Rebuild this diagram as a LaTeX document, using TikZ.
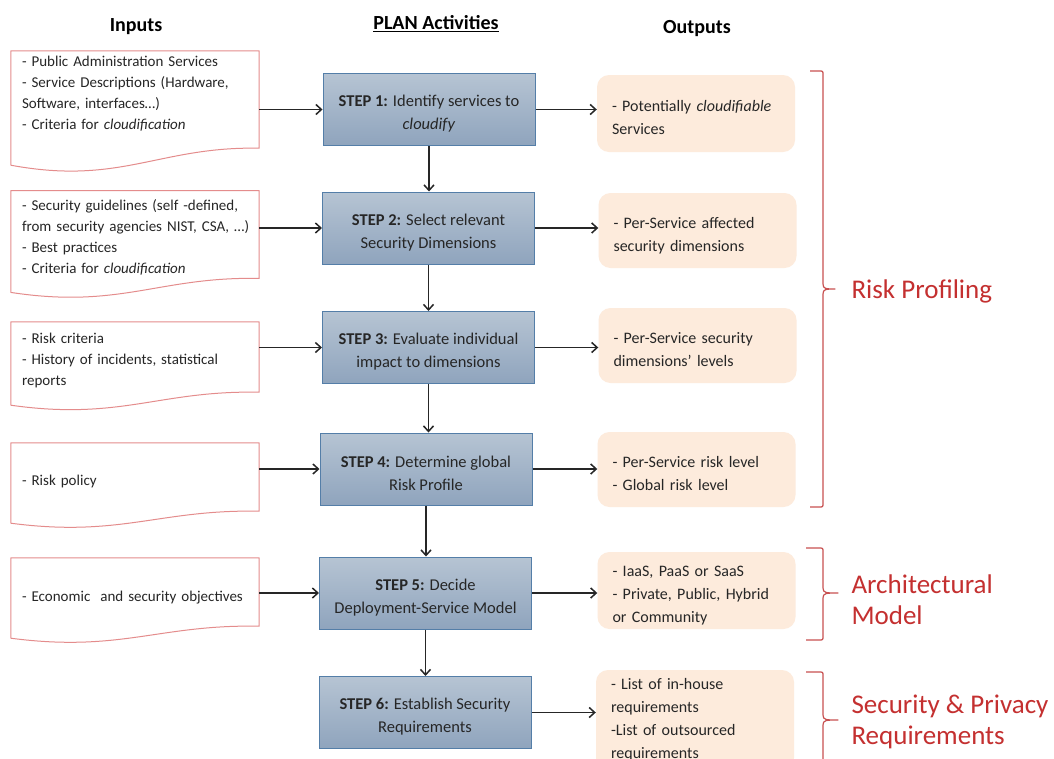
\documentclass[tikz,border=0pt]{standalone}
\usepackage{fontspec}
\setmainfont{Carlito}
\usetikzlibrary{arrows.meta,calc}

\definecolor{txt}{RGB}{38,38,38}
\definecolor{docred}{RGB}{228,140,140}
\definecolor{bracered}{RGB}{200,80,80}
\definecolor{labelred}{RGB}{196,48,48}
\definecolor{steptop}{RGB}{182,196,211}
\definecolor{stepbot}{RGB}{143,164,189}
\definecolor{stepedge}{RGB}{84,126,168}
\definecolor{outfill}{RGB}{253,235,220}

% taller first line, lowers a text block slightly inside its box
\newcommand\lowerstrut[1]{\rule{0pt}{#1}}

\tikzset{
  inputdoc/.style={rectangle, minimum width=248pt, inner xsep=11pt, text width=226pt,
    align=left, font=\fontsize{15}{21}\selectfont, text=txt},
  docline/.style={draw=docred, line width=1pt, line join=round},
  stepbox/.style={rectangle, draw=stepedge, line width=1pt, top color=steptop,
    bottom color=stepbot, minimum width=212pt, minimum height=72pt, align=center,
    font=\fontsize{16.5}{23}\selectfont, text=txt},
  outbox/.style={rectangle, rounded corners=12pt, fill=outfill, minimum width=198pt,
    inner xsep=15pt, text width=168pt, align=left, font=\fontsize{16}{23}\selectfont, text=txt},
  header/.style={font=\fontsize{20}{24}\selectfont\bfseries, text=black},
  flow/.style={draw=black!85, line width=1.3pt,
    -{Straight Barb[length=5.5pt,width=10pt,line width=1.5pt]}},
  bracket/.style={draw=bracered, line width=1.2pt, line join=round},
  grouplabel/.style={font=\fontsize{27}{31}\selectfont, text=labelred, align=left, anchor=west},
}

% document outline with a wavy bottom edge around an input node
\newcommand\docoutline[2]{%
  \draw[docline] (#1.north west) -- (#1.north east) -- (#1.south east)
    .. controls ($(#1.south east)+(-100,-2)$) and ($(#1.south west)+(110,#2*2.2)$)
    .. ($(#1.south west)+(0,#2)$) -- cycle;}

\begin{document}
\begin{tikzpicture}[x=1pt,y=-1pt]
\useasboundingbox (0,0) rectangle (1054,758);
\clip (0,0) rectangle (1054,758);
\fill[white] (0,0) rectangle (1054,758);

% column headers
\node[header] (hin) at (136,27) {Inputs};
\node[header] (hplan) at (436,24) {\underline{PLAN Activities}};
\node[header] (hout) at (697,29) {Outputs};

% inputs
\node[inputdoc, minimum height=97pt] (in1) at (135,99.5)
  {- Public Administration Services\\- Service Descriptions (Hardware,\\Software, interfaces…)\\- Criteria for \textit{cloudification}\\[-8pt]\mbox{}};
\node[inputdoc, minimum height=87pt] (in2) at (135,234.5)
  {\lowerstrut{16pt}- Security guidelines (self -defined,\\\mbox{from security agencies NIST, CSA, …)}\\- Best practices\\- Criteria for \textit{cloudification}};
\node[inputdoc, minimum height=70pt] (in3) at (135,357)
  {\lowerstrut{17pt}- Risk criteria\\- History of incidents, statistical\\reports};
\node[inputdoc, minimum height=68pt] (in4) at (135,477) {\lowerstrut{19pt}- Risk policy};
\node[inputdoc, minimum height=68pt] (in5) at (135,592) {\lowerstrut{21pt}- Economic\ \ and security objectives};
\docoutline{in1}{17}
\docoutline{in2}{14}
\docoutline{in3}{13}
\docoutline{in4}{12}
\docoutline{in5}{12}

% plan activities
\node[stepbox] (s1) at (429,109.5) {\lowerstrut{20pt}\textbf{STEP 1:} Identify services to\\\textit{cloudify}};
\node[stepbox] (s2) at (428.5,228) {\lowerstrut{20pt}\textbf{STEP 2:} Select relevant\\Security Dimensions};
\node[stepbox] (s3) at (428.5,347.5) {\lowerstrut{20pt}\textbf{STEP 3:} Evaluate individual\\impact to dimensions};
\node[stepbox] (s4) at (426,469) {\lowerstrut{20pt}\textbf{STEP 4:} Determine global\\Risk Profile};
\node[stepbox] (s5) at (425.5,593) {\lowerstrut{20pt}\textbf{STEP 5:} Decide\\Deployment-Service Model};
\node[stepbox] (s6) at (425,712.5) {\lowerstrut{20pt}\textbf{STEP 6:} Establish Security\\Requirements};

% outputs
\node[outbox, minimum height=77pt] (o1) at (696,113.5) {\lowerstrut{20pt}- Potentially \textit{cloudifiable}\\Services};
\node[outbox, minimum height=75pt] (o2) at (697.5,230.5) {\lowerstrut{21pt}- Per-Service affected\\security dimensions};
\node[outbox, minimum height=75pt] (o3) at (697.5,345.5) {\lowerstrut{20pt}- Per-Service security\\dimensions’ levels};
\node[outbox, minimum height=75pt] (o4) at (696.5,469.5) {\lowerstrut{20pt}- Per-Service risk level\\- Global risk level};
\node[outbox, minimum height=77pt] (o5) at (696.5,590.5) {\lowerstrut{21pt}- IaaS, PaaS or SaaS\\- Private, Public, Hybrid\\or Community};
\node[outbox, minimum height=100pt] (o6) at (695,720) {- List of in-house\\requirements\\-List of outsourced\\requirements};

% connectors
\foreach \i in {1,...,5} \draw[flow] (in\i.east |- s\i.west) -- (s\i.west);
\foreach \i in {1,...,6} \draw[flow] (s\i.east) -- (o\i.west |- s\i.east);
\foreach \i/\j in {1/2,2/3,3/4,4/5,5/6} \draw[flow] (s\i.south) -- (s\i.south |- s\j.north);

% grouping brackets
\draw[bracket] (810,71) -- (819,71) .. controls (823,71) .. (823,75) -- (823,284)
  .. controls (823,289) and (826,289) .. (835,289)
  .. controls (826,289) and (823,289) .. (823,294) -- (823,503)
  .. controls (823,507) .. (819,507) -- (810,507);
\draw[bracket] (806,548) -- (819,548) .. controls (823,548) .. (823,552) -- (823,588)
  .. controls (823,593) and (826,593) .. (838,593)
  .. controls (826,593) and (823,593) .. (823,598) -- (823,636)
  .. controls (823,640) .. (819,640) -- (806,640);
\draw[bracket] (806,672) -- (819,672) .. controls (823,672) .. (823,676) -- (823,715)
  .. controls (823,720) and (826,720) .. (838,720)
  .. controls (826,720) and (823,720) .. (823,725) -- (823,790);

\node[grouplabel] (gl1) at (848,291) {Risk Profiling};
\node[grouplabel] (gl2) at (848,600) {Architectural\\Model};
\node[grouplabel] (gl3) at (848,722) {Security \& Privacy\\Requirements};
\end{tikzpicture}
\end{document}
